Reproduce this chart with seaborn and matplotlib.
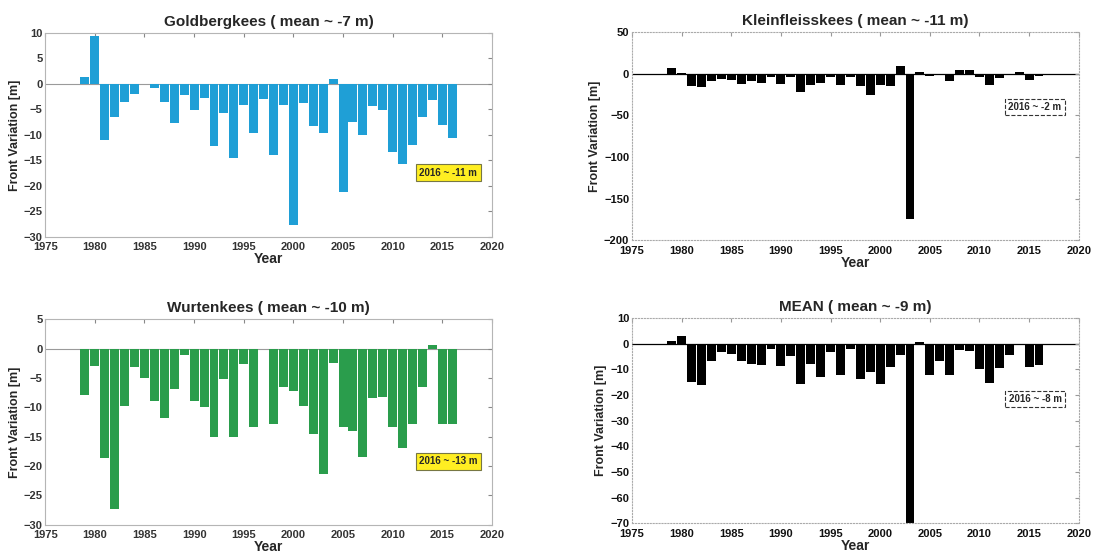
import matplotlib
matplotlib.use('Agg')
import matplotlib.pyplot as plt
import seaborn as sns
import numpy as np
import pandas as pd

years = list(range(1979, 2017))

goldberg = [1.3, 9.4, -11.0, -6.5, -3.6, -1.9, np.nan, -0.8, -3.6, -7.7,
            -2.1, -5.2, -2.7, -12.1, -5.7, -14.6, -4.2, -9.6, -3.0, -14.0,
            -4.2, -27.6, -3.8, -8.2, -9.6, 0.9, -21.3, -7.5, -10.0, -4.4,
            -5.1, -13.4, -15.7, -11.9, -6.6, -3.2, -8.1, -10.6]

wurten = [-7.9, -3.0, -18.6, -27.3, -9.8, -3.1, -5.0, -9.0, -11.9, -6.9,
          -1.1, -9.0, -10.0, -15.0, -5.1, -15.0, -2.7, -13.3, np.nan, -12.8,
          -6.5, -7.2, -9.7, -14.5, -21.3, -2.4, -13.4, -14.0, -18.5, -8.4,
          -8.2, -13.3, -16.9, -12.9, -6.6, 0.6, -12.9, -12.9]

kleinfleiss = [7, 1, -15, -15.5, -9, -6, -7.5, -12, -9, -11.5,
               -4, -12, -4, -21.5, -14, -11.5, -4, -14, -4, -15,
               -25, -13, -15, 9, -175, 2, -2, -1.5, -9, 4.5,
               4.5, -4, -14, -5.5, np.nan, 2, -7.5, -2]

mean_all = [0.9, 2.9, -14.8, -16.3, -6.9, -3.4, -4.0, -6.9, -7.8, -8.3,
            -2.1, -8.6, -4.9, -15.6, -7.8, -13.1, -3.1, -12.1, -2.1, -13.8,
            -11.2, -15.7, -9.1, -4.3, -70, 0.6, -12.1, -6.9, -12.1, -2.6,
            -2.7, -9.8, -15.3, -9.5, -4.3, np.nan, -9.2, -8.3]

panels = [
    # name, values, mean, last, color, ylim, yticks, box-y, axes rect
    ('Goldbergkees', goldberg, -7, -11, '#1f9fd6', (-30, 10), np.arange(-30, 11, 5), -17.4,
     [0.041, 0.574, 0.405, 0.367], 'color'),
    ('Kleinfleisskees', kleinfleiss, -11, -2, '#000000', (-200, 50), np.arange(-200, 51, 50), -39.8,
     [0.573, 0.568, 0.405, 0.374], 'bw'),
    ('Wurtenkees', wurten, -10, -13, '#2a9d4c', (-30, 5), np.arange(-30, 6, 5), -19.2,
     [0.041, 0.056, 0.405, 0.370], 'color'),
    ('MEAN', mean_all, -9, -8, '#000000', (-70, 10), np.arange(-70, 11, 10), -21.6,
     [0.573, 0.059, 0.405, 0.369], 'bw'),
]

sns.set_style('white')
plt.rcParams['font.family'] = ['Liberation Sans', 'DejaVu Sans']
plt.rcParams['font.weight'] = 'bold'

fig = plt.figure(figsize=(11.03, 5.56), dpi=100)

for name, vals, mean_v, last_v, color, ylim, yticks, box_y, rect, kind in panels:
    ax = fig.add_axes(rect)
    df = pd.DataFrame({'year': years, 'value': vals}).dropna()
    sns.barplot(data=df, x='year', y='value', native_scale=True, color=color,
                saturation=1, width=0.9, edgecolor='none', ax=ax)
    ax.set_xlim(1975, 2020)
    ax.set_ylim(*ylim)
    ax.set_xticks(np.arange(1975, 2021, 5))
    ax.set_yticks(yticks)
    ax.tick_params(axis='both', labelsize=8, length=3, direction='in',
                   top=True, right=True)
    ax.tick_params(axis='x', pad=4)
    ax.tick_params(axis='y', pad=2)
    for lab in ax.get_xticklabels() + ax.get_yticklabels():
        lab.set_fontweight('bold')
    ax.set_title(f'{name} ( mean ~ {mean_v} m)', fontsize=11, fontweight='bold', pad=5)
    ax.set_xlabel('Year', fontsize=10, fontweight='bold', labelpad=0)
    ax.set_ylabel('Front Variation [m]', fontsize=9, fontweight='bold', labelpad=2)

    if kind == 'color':
        ax.axhline(0, color='#9a9a9a', lw=0.8, zorder=0)
        for sp in ax.spines.values():
            sp.set_color('#b5b5b5')
            sp.set_linewidth(0.8)
        ax.tick_params(colors='#888888', labelcolor='#333333')
        ax.annotate(f'2016 ~ {last_v} m', xy=(2015.6, box_y), ha='center', va='center',
                    fontsize=7, fontweight='bold',
                    bbox=dict(boxstyle='square,pad=0.35', fc='#ffee22', ec='#777744', lw=0.8))
    else:
        ax.axhline(0, color='#000000', lw=0.9, zorder=0)
        for sp in ax.spines.values():
            sp.set_color('#aaaaaa')
            sp.set_linewidth(0.8)
            sp.set_linestyle(':')
        ax.tick_params(colors='#999999', labelcolor='#111111')
        ax.annotate(f'2016 ~ {last_v} m', xy=(2015.6, box_y), ha='center', va='center',
                    fontsize=7, fontweight='bold',
                    bbox=dict(boxstyle='square,pad=0.35', fc='white', ec='#333333',
                              lw=0.8, ls='--'))

fig.savefig('out.png', dpi=100)
